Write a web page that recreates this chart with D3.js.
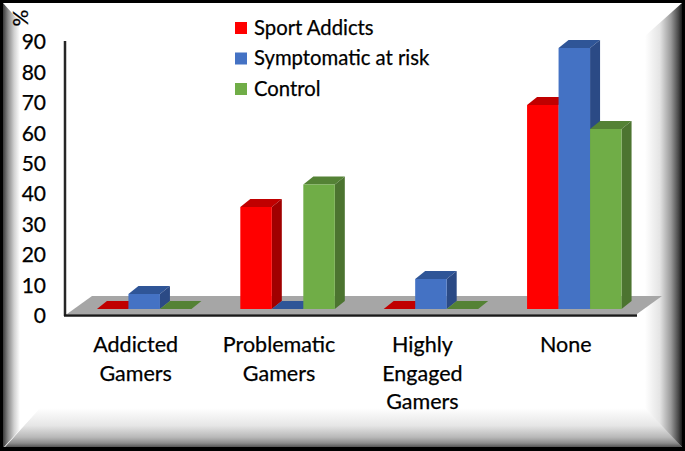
<!DOCTYPE html>
<html lang="en">
<head>
<meta charset="UTF-8">
<title>Gaming by group</title>
<script src="https://cdn.jsdelivr.net/npm/d3@7"></script>
<style>
    html, body { margin: 0; background: #000; }
    svg { display: block; font-family: Lato, "Open Sans", sans-serif; }
    text { stroke: #000; stroke-width: 0.25px; }
</style>
</head>
<body>
<svg id="chart" width="685" height="451"></svg>
<script>
const categories = [["Addicted", "Gamers"], ["Problematic", "Gamers"], ["Highly", "Engaged", "Gamers"], ["None"]];
const seriesNames = ["Sport Addicts", "Symptomatic at risk", "Control"];
const sportAddicts = [0, 34, 0, 68];
const symptomatic = [5, 0, 10, 87];
const control = [0, 41.5, 0, 60];
const ticks = [0, 10, 20, 30, 40, 50, 60, 70, 80, 90];

const width = 685, height = 451;
const depthX = 10, depthY = 8;
const colors = [
    {front: "#ff0000", top: "#c00000", side: "#a00000"},
    {front: "#4472c4", top: "#2f5597", side: "#2b4a85"},
    {front: "#70ad47", top: "#548235", side: "#4c7430"}
];

const svg = d3.select("#chart");
const defs = svg.append("defs");

function gradient(id, x1, y1, x2, y2, stops) {
    const g = defs.append("linearGradient").attr("id", id)
        .attr("gradientUnits", "userSpaceOnUse")
        .attr("x1", x1).attr("y1", y1).attr("x2", x2).attr("y2", y2);
    stops.forEach(s => g.append("stop").attr("offset", s[0]).attr("stop-color", s[1]));
}
gradient("bevelLeft", 3, 0, 20, 0, [[0, "#3a3a3a"], [0.3, "#8a8a8a"], [0.65, "#d0d0d0"], [1, "#ffffff"]]);
gradient("bevelRight", 645, 0, 682, 0, [[0, "#ffffff"], [0.4, "#e4e4e4"], [0.7, "#9a9a9a"], [0.9, "#4a4a4a"], [1, "#1a1a1a"]]);
gradient("bevelBottom", 0, 408, 0, 447, [[0, "#ffffff"], [0.45, "#e6e6e6"], [0.75, "#b8b8b8"], [0.9, "#8c8c8c"], [1, "#555555"]]);

const line = d3.line();

// picture frame
svg.append("rect").attr("x", 3).attr("y", 3).attr("width", 679).attr("height", 444).attr("fill", "#fff");
svg.append("path").attr("fill", "url(#bevelBottom)")
    .attr("d", line([[5, 447], [40, 408], [648, 408], [682, 447]]) + "Z");
svg.append("path").attr("fill", "url(#bevelLeft)")
    .attr("d", line([[3, 3], [20, 22], [20, 425], [40, 408], [4, 447], [3, 447]]) + "Z");
svg.append("path").attr("fill", "url(#bevelRight)")
    .attr("d", line([[682, 3], [645, 36], [645, 408], [682, 447]]) + "Z");

const x = d3.scaleBand().domain(d3.range(categories.length)).range([72.5, 646]);
const axisY = d3.scaleLinear().domain([0, 90]).range([316, 42]);
const barY = d3.scaleLinear().domain([0, 90]).range([309, 39]);
const barWidth = 31.5;

// floor
svg.append("path").attr("fill", "#a6a6a6")
    .attr("d", line([[67, 314], [92, 296], [662, 296], [637, 314]]) + "Z");

// bars
[sportAddicts, symptomatic, control].forEach((values, s) => {
    const g = svg.append("g").selectAll("g").data(values).join("g");
    const left = (d, i) => x(i) + x.bandwidth() / 2 - barWidth * 1.5 + s * barWidth;
    g.append("path").attr("fill", colors[s].top).attr("d", (d, i) => {
        const l = left(d, i), t = barY(d);
        return line([[l, t], [l + depthX, t - depthY], [l + barWidth + depthX, t - depthY], [l + barWidth, t]]) + "Z";
    });
    g.append("path").attr("fill", colors[s].side).attr("d", (d, i) => {
        const r = left(d, i) + barWidth, t = barY(d), b = barY(0);
        return line([[r, t], [r + depthX, t - depthY], [r + depthX, b - depthY], [r, b]]) + "Z";
    });
    g.append("rect").attr("fill", colors[s].front)
        .attr("x", left).attr("y", d => barY(d))
        .attr("width", barWidth).attr("height", d => barY(0) - barY(d));
});

// axes
const yAxis = svg.append("g").attr("transform", "translate(65,0)")
    .call(d3.axisLeft(axisY).tickValues(ticks).tickSize(0).tickPadding(19).tickFormat(d3.format("d")));
yAxis.select(".domain").remove();
yAxis.selectAll("text").attr("font-size", 21).attr("font-family", "Lato").attr("fill", "#000");

svg.append("line").attr("x1", 65).attr("x2", 65).attr("y1", 41).attr("y2", 316)
    .attr("stroke", "#262626").attr("stroke-width", 2.5);
svg.append("line").attr("x1", 64).attr("x2", 637).attr("y1", 315.5).attr("y2", 315.5)
    .attr("stroke", "#1a1a1a").attr("stroke-width", 2.5);

svg.append("text").attr("transform", "translate(28,18) rotate(-90)")
    .attr("text-anchor", "middle").attr("font-size", 21).text("%");

// category labels
const catLabels = svg.append("g").selectAll("text").data(categories).join("text")
    .attr("text-anchor", "middle").attr("font-size", 21.5).attr("fill", "#000");
catLabels.selectAll("tspan").data((d, i) => d.map(t => ({t, i}))).join("tspan")
    .attr("x", d => x(d.i) + x.bandwidth() / 2 - 8.5)
    .attr("y", (d, j) => 352 + j * 28.5)
    .text(d => d.t);

// legend
const legend = svg.append("g").selectAll("g").data(seriesNames).join("g")
    .attr("transform", (d, i) => `translate(235,${22 + i * 30.5})`);
legend.append("rect").attr("width", 12).attr("height", 12).attr("fill", (d, i) => colors[i].front);
legend.append("text").attr("x", 19).attr("y", 12.5).attr("font-size", 20.3).attr("fill", "#000").text(d => d);
</script>
</body>
</html>
